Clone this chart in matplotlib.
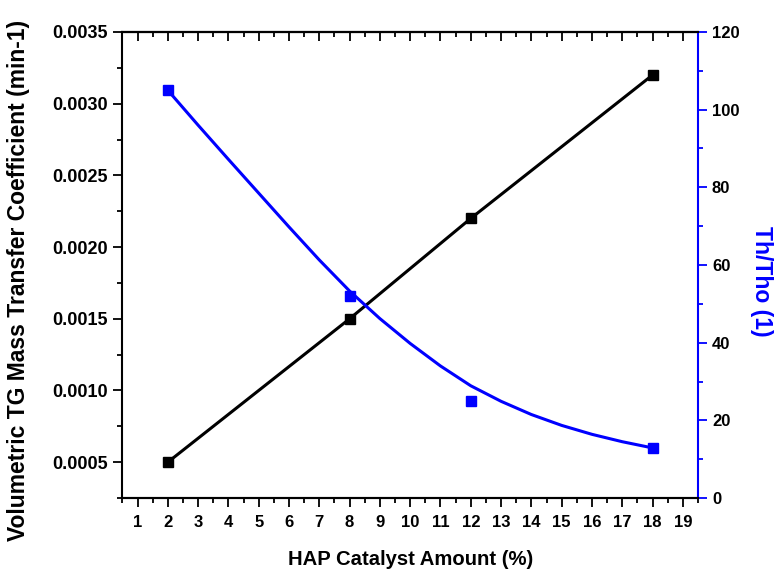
import numpy as np
import matplotlib
matplotlib.use('Agg')
from matplotlib import pyplot as plt
from matplotlib.ticker import MultipleLocator, FormatStrFormatter, NullFormatter

# data
hap = [2, 8, 12, 18]
kla = [0.0005, 0.0015, 0.0022, 0.0032]
ratio = [105, 52, 25, 13]

# blue fitted curve
fit_x = [2, 3, 4, 5, 6, 7, 8, 9, 10, 11, 12, 13, 14, 15, 16, 17, 18]
fit_y = [105, 96.0, 87.2, 78.5, 69.8, 61.3, 53.3, 46.2, 39.8, 34.0, 28.9,
         24.9, 21.5, 18.7, 16.4, 14.5, 12.9]

plt.rcParams['font.family'] = ['Liberation Sans', 'DejaVu Sans']
plt.rcParams['font.weight'] = 'bold'

fig = plt.figure(figsize=(7.76, 5.71), dpi=100)
ax = fig.add_axes([0.1577, 0.1278, 0.7418, 0.8162])
ax2 = ax.twinx()

ax.plot(hap, kla, color='black', lw=2.2, marker='s', ms=6.5, zorder=3)
ax2.plot(fit_x, fit_y, color='blue', lw=2.2, zorder=3)
ax2.plot(hap, ratio, color='blue', ls='none', marker='s', ms=6.5, zorder=4)

ax.set_xlim(0.5, 19.5)
ax.set_ylim(0.00025, 0.0035)
ax2.set_ylim(0, 120)

ax.xaxis.set_major_locator(MultipleLocator(1))
ax.xaxis.set_minor_locator(MultipleLocator(0.5))
ax.yaxis.set_major_locator(MultipleLocator(0.0005))
ax.yaxis.set_minor_locator(MultipleLocator(0.00025))
ax.yaxis.set_major_formatter(FormatStrFormatter('%.4f'))
ax2.yaxis.set_major_locator(MultipleLocator(20))
ax2.yaxis.set_minor_locator(MultipleLocator(10))

ax.tick_params(axis='both', which='major', width=1.3, length=6.5, direction='out')
ax.tick_params(axis='both', which='minor', width=1.3, length=3.5, direction='out')
ax.tick_params(axis='x', which='major', labelsize=12, pad=6)
ax.tick_params(axis='y', which='major', labelsize=13, pad=4)
ax2.tick_params(axis='y', which='major', labelsize=12, width=1.3, length=6.5, color='blue')
ax2.tick_params(axis='y', which='minor', width=1.3, length=3.5, color='blue')

# top axis: ticks pointing inward, no labels
top = ax.secondary_xaxis('top')
top.xaxis.set_major_locator(MultipleLocator(1))
top.xaxis.set_minor_locator(MultipleLocator(0.5))
top.xaxis.set_major_formatter(NullFormatter())
top.tick_params(axis='x', which='major', direction='in', length=6.5, width=1.3)
top.tick_params(axis='x', which='minor', direction='in', length=3.5, width=1.3)
top.spines['top'].set_linewidth(1.5)

for s in ax.spines.values():
    s.set_linewidth(1.5)
for s in ax2.spines.values():
    s.set_linewidth(1.5)
ax2.spines['right'].set_color('blue')
ax2.spines['left'].set_visible(False)
ax.spines['right'].set_visible(False)

ax.set_xlabel('HAP Catalyst Amount (%)', fontsize=14.6, fontweight='bold', labelpad=14)
ax.set_ylabel('Volumetric TG Mass Transfer Coefficient (min-1)', fontsize=16.5,
              fontweight='bold', va='center', ha='center', rotation=90,
              rotation_mode='anchor')
ax.yaxis.set_label_coords(-0.181, 0.466)
ax2.set_ylabel('Th/Tho (1)', fontsize=16.5, fontweight='bold', color='blue',
               rotation=270, va='center', ha='center', rotation_mode='anchor')
ax2.yaxis.set_label_coords(1.111, 0.466)

fig.savefig('out.png', dpi=100)
